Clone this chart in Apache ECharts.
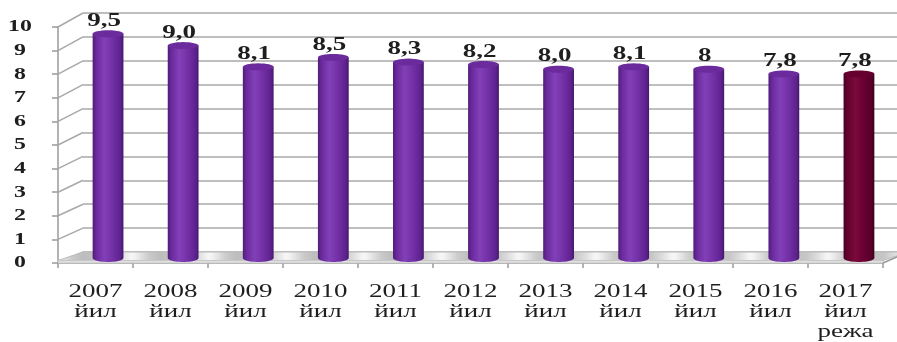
<!DOCTYPE html>
<html>
<head>
<meta charset="utf-8">
<script src="https://cdn.jsdelivr.net/npm/echarts@6/dist/echarts.min.js"></script>
<style>
  html, body { margin: 0; padding: 0; background: #ffffff; }
  #chart { width: 897px; height: 342px; }
</style>
</head>
<body>
<div id="chart"></div>
<script>
// Years and their two/three-line axis captions
const categories = [
  '2007\nйил', '2008\nйил', '2009\nйил', '2010\nйил', '2011\nйил', '2012\nйил',
  '2013\nйил', '2014\nйил', '2015\nйил', '2016\nйил', '2017\nйил\nрежа'
];
// Indicator values by year (2017 is the plan)
const values = [9.5, 9.0, 8.1, 8.5, 8.3, 8.2, 8.0, 8.1, 8, 7.8, 7.8];
const valueLabels = ['9,5', '9,0', '8,1', '8,5', '8,3', '8,2', '8,0', '8,1', '8', '7,8', '7,8'];
// Value-axis ticks
const yTicks = [0, 1, 2, 3, 4, 5, 6, 7, 8, 9, 10];
// Index of the plan column drawn in a different colour
const planIndex = 10;
const yMin = 0, yMax = 10, yStep = 1;

const SERIF = 'Liberation Serif';

const purpleFill = {
  type: 'linear', x: 0, y: 0, x2: 1, y2: 0,
  colorStops: [
    { offset: 0, color: '#4f1c78' },
    { offset: 0.12, color: '#6a2a9c' },
    { offset: 0.38, color: '#8240b8' },
    { offset: 0.62, color: '#7532a8' },
    { offset: 0.9, color: '#5e2290' },
    { offset: 1, color: '#451868' }
  ]
};
const purpleTop = '#6b2b9c';
const planFill = {
  type: 'linear', x: 0, y: 0, x2: 1, y2: 0,
  colorStops: [
    { offset: 0, color: '#4a0022' },
    { offset: 0.12, color: '#62002e' },
    { offset: 0.38, color: '#7a0a3c' },
    { offset: 0.62, color: '#6c0034' },
    { offset: 0.9, color: '#560028' },
    { offset: 1, color: '#40001c' }
  ]
};
const planTop = '#66002f';

function arcPoints(cx, cy, rx, ry, a0, a1, n) {
  const pts = [];
  for (let i = 0; i <= n; i++) {
    const a = a0 + (a1 - a0) * i / n;
    pts.push([cx + rx * Math.cos(a), cy + ry * Math.sin(a)]);
  }
  return pts;
}

// Text in a horizontally widened serif
function wideText(text, x, y, size, weight, scale) {
  return {
    type: 'text', x: x, y: y, scaleX: scale,
    style: {
      text: text, x: 0, y: 0, align: 'center', verticalAlign: 'middle',
      fontFamily: SERIF, fontSize: size, fontWeight: weight, fill: '#1e1e1e'
    }
  };
}

// Cylinder column: body with rounded bottom, elliptic top cap, value text above
function renderCylinder(params, api) {
  const idx = api.value(0);
  const v = api.value(1);
  const base = api.coord([idx, 0]);
  const top = api.coord([idx, v]);
  const band = api.size([1, 0])[0];
  const rx = band * 0.205;
  const ryTop = 3.5, ryBot = 4;
  const cx = base[0];
  const isPlan = idx === planIndex;
  const body = [[cx - rx, top[1]]]
    .concat(arcPoints(cx, base[1], rx, ryBot, Math.PI, 0, 24))
    .concat([[cx + rx, top[1]]]);
  const cap = arcPoints(cx, top[1], rx, ryTop, 0, Math.PI * 2, 32);
  return {
    type: 'group',
    children: [
      { type: 'polygon', shape: { points: body }, style: { fill: isPlan ? planFill : purpleFill } },
      { type: 'polygon', shape: { points: cap }, style: { fill: isPlan ? planTop : purpleTop } },
      wideText(valueLabels[idx], cx - 4, top[1] - ryTop - 9, 18, 'bold', 1.5)
    ]
  };
}

// Category captions under the front edge, one text per line
function renderCategoryLabel(params, api) {
  const idx = api.value(0);
  const p = api.coord([idx, 0]);
  const lines = categories[idx].split('\n');
  return {
    type: 'group',
    children: lines.map((s, k) => wideText(s, p[0], p[1] + 29 + k * 20, 19, 'normal', 1.42))
  };
}

// Value-axis numbers left of the front axis
function renderTickLabel(params, api) {
  const v = api.value(1);
  const p = api.coord([0, v]);
  return wideText(String(v), params.coordSys.x - 38, p[1], 17, 'bold', 1.4);
}

const chart = echarts.init(document.getElementById('chart'), null, { renderer: 'canvas' });

const option = {
  backgroundColor: '#ffffff',
  animation: false,
  grid: [
    // back wall
    { left: 83, right: -8, top: 13, bottom: 90 },
    // front axes
    { left: 58, right: 14, top: 27, bottom: 79 },
    // mid-depth plane where the columns stand
    { left: 70.5, right: 0.5, top: 22, bottom: 84 }
  ],
  xAxis: [
    { gridIndex: 0, type: 'value', min: 0, max: 1, show: false },
    {
      gridIndex: 1, type: 'category', data: categories,
      axisLine: { show: true, lineStyle: { color: '#9a9a9a', width: 1.5 } },
      axisTick: { show: true, length: 5, lineStyle: { color: '#9a9a9a', width: 1.5 } },
      axisLabel: { show: false },
      splitLine: { show: false }
    },
    { gridIndex: 2, type: 'category', data: categories, show: false }
  ],
  yAxis: [
    {
      gridIndex: 0, type: 'value', min: yMin, max: yMax, interval: yStep,
      axisLine: { show: false }, axisTick: { show: false }, axisLabel: { show: false },
      splitLine: { show: true, lineStyle: { color: '#a8a8a8', width: 1.6 } }
    },
    {
      gridIndex: 1, type: 'value', min: yMin, max: yMax, interval: yStep,
      axisLine: { show: true, lineStyle: { color: '#9a9a9a', width: 1.5 } },
      axisTick: { show: true, length: 6, lineStyle: { color: '#9a9a9a', width: 1.5 } },
      axisLabel: { show: false },
      splitLine: { show: false }
    },
    { gridIndex: 2, type: 'value', min: yMin, max: yMax, show: false }
  ],
  series: [
    {
      type: 'custom', name: 'columns',
      xAxisIndex: 2, yAxisIndex: 2,
      z: 10,
      renderItem: renderCylinder,
      data: values.map((v, i) => [i, v])
    },
    {
      type: 'custom', name: 'categoryLabels',
      xAxisIndex: 1, yAxisIndex: 1,
      z: 10, silent: true,
      renderItem: renderCategoryLabel,
      data: categories.map((c, i) => [i, 0])
    },
    {
      type: 'custom', name: 'tickLabels',
      xAxisIndex: 1, yAxisIndex: 1,
      z: 10, silent: true,
      renderItem: renderTickLabel,
      data: yTicks.map(v => [0, v])
    }
  ]
};
chart.setOption(option);

// Side wall lines and floor, placed from the two grids' scales
function gridRect(i) {
  return chart.getModel().getComponent('grid', i).coordinateSystem.getRect();
}
const back = gridRect(0);
const front = gridRect(1);
const graphics = [];
for (let v = yMin; v <= yMax; v += yStep) {
  const yf = chart.convertToPixel({ yAxisIndex: 1 }, v);
  const yb = chart.convertToPixel({ yAxisIndex: 0 }, v);
  graphics.push({
    type: 'line', z: 1,
    shape: { x1: front.x, y1: yf, x2: back.x, y2: yb },
    style: { stroke: '#a8a8a8', lineWidth: 1.5 }
  });
}
const yf0 = chart.convertToPixel({ yAxisIndex: 1 }, 0);
const yb0 = chart.convertToPixel({ yAxisIndex: 0 }, 0);
const dx = back.x - front.x;
const fr = front.x + front.width;
const lip = 2.5;

// shaded floor: light between columns, soft grey streak at each column's foot
const floorStops = [];
const n = categories.length;
const streak = [
  [0.0, '#f2f2f2'], [0.18, '#cbcbcb'], [0.32, '#bdbdbd'],
  [0.68, '#c6c6c6'], [0.82, '#dddddd'], [0.95, '#f6f6f6']
];
for (let k = 0; k < n; k++) {
  streak.forEach(([o, c]) => floorStops.push({ offset: (k + o) / n, color: c }));
}
floorStops.push({ offset: 1, color: '#f2f2f2' });
graphics.push({
  type: 'polygon', z: 2,
  shape: { points: [[front.x, yf0 - lip], [fr, yf0 - lip], [fr + dx, yb0], [back.x, yb0]] },
  style: {
    fill: { type: 'linear', x: 0, y: 0, x2: 1, y2: 0, colorStops: floorStops },
    stroke: '#bcbcbc', lineWidth: 1
  }
});
// thin front face of the floor
graphics.push({
  type: 'rect', z: 2,
  shape: { x: front.x, y: yf0 - lip, width: fr - front.x, height: lip },
  style: { fill: '#e0e0e0', stroke: '#c4c4c4', lineWidth: 0.8 }
});
graphics.push({
  type: 'line', z: 3,
  shape: { x1: fr, y1: yf0, x2: fr + dx, y2: yb0 },
  style: { stroke: '#9a9a9a', lineWidth: 1.5 }
});
chart.setOption({ graphic: graphics });
</script>
</body>
</html>
